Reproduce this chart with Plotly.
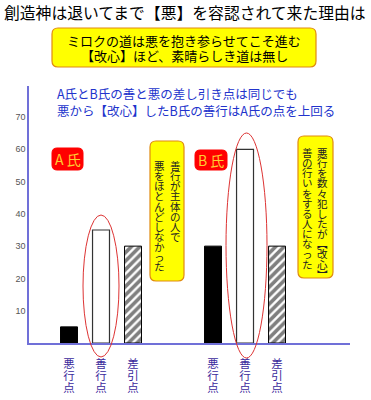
import plotly.graph_objects as go

# ---- data ----
categories = ["悪行点", "善行点", "差引点"]
groups = ["A氏", "B氏"]
values_A = [5, 35, 30]
values_B = [30, 60, 30]
y_ticks = [10, 20, 30, 40, 50, 60, 70]

title_text = "創造神は退いてまで【悪】を容認されて来た理由は"
box_lines = ["ミロクの道は悪を抱き参らせてこそ進む", "【改心】ほど、素晴らしき道は無し"]
blue_lines = ["A氏とB氏の善と悪の差し引き点は同じでも", "悪から【改心】したB氏の善行はA氏の点を上回る"]
note_A = ["善行が主体の人で", "悪をほとんどしなかった"]
note_B = ["悪行を数々犯したが︻改心︼", "善の行いをする人になった"]

FONT = "Noto Sans CJK JP"
W, H = 371, 400
L, R, T, B = 29, 350, 86, 343

group_start = [1.0, 5.5]

def px(x):
    return (x - L) / (R - L)

def py(y):
    return (B - y) / (B - T)

def rrect(x0, y0, x1, y1, r):
    pts = [
        f"M {px(x0 + r)},{py(y0)}",
        f"L {px(x1 - r)},{py(y0)}",
        f"Q {px(x1)},{py(y0)} {px(x1)},{py(y0 + r)}",
        f"L {px(x1)},{py(y1 - r)}",
        f"Q {px(x1)},{py(y1)} {px(x1 - r)},{py(y1)}",
        f"L {px(x0 + r)},{py(y1)}",
        f"Q {px(x0)},{py(y1)} {px(x0)},{py(y1 - r)}",
        f"L {px(x0)},{py(y0 + r)}",
        f"Q {px(x0)},{py(y0)} {px(x0 + r)},{py(y0)}",
        "Z",
    ]
    return " ".join(pts)

def vertical(text, char_px):
    return "<br>".join(f'<span style="font-size:{char_px}px">{c}</span>' for c in text)

fig = go.Figure()

styles = [
    dict(color="black", line=dict(color="black", width=1)),
    dict(color="white", line=dict(color="#333333", width=1.2)),
    dict(color="white", line=dict(color="black", width=1),
         pattern=dict(shape="/", fgcolor="black", bgcolor="white", size=6, solidity=0.6)),
]
for i, cat in enumerate(categories):
    fig.add_trace(go.Bar(
        x=[group_start[0] + i, group_start[1] + i],
        y=[values_A[i], values_B[i]],
        width=0.53,
        marker=styles[i],
        name=cat,
        showlegend=False,
    ))

tickvals = [g + i for g in group_start for i in range(len(categories))]
ticktext = [vertical(c, 11.5) for g in group_start for c in categories]

fig.update_layout(
    width=W, height=H,
    margin=dict(l=L, r=W - R, t=T, b=H - B, pad=0, autoexpand=False),
    plot_bgcolor="white", paper_bgcolor="white",
    font=dict(family=FONT),
    xaxis=dict(range=[-0.25, 9.78], tickvals=tickvals, ticktext=ticktext,
               showgrid=False, zeroline=False, showline=True,
               linecolor="#7070d8", linewidth=1.5, ticks="",
               ticklabelstandoff=12, automargin=False,
               tickfont=dict(size=9.4, color="#3b2a9c", family=FONT)),
    yaxis=dict(range=[0, 79.6], tickvals=y_ticks,
               showgrid=False, zeroline=False, showline=True,
               linecolor="#7070d8", linewidth=1.5, ticks="", automargin=False,
               tickfont=dict(size=9, color="#555555", family="Arial")),
)

shapes = []
ann = []

# title
ann.append(dict(x=px(185), y=py(13), xref="paper", yref="paper", text=title_text,
                showarrow=False, font=dict(size=15.8, color="black", family=FONT),
                xanchor="center", yanchor="middle"))

# yellow top box
shapes.append(dict(type="path", xref="paper", yref="paper", path=rrect(52, 28, 316, 67, 6),
                   fillcolor="#ffff00", line=dict(color="#e08a10", width=1.2)))
for line, yy in zip(box_lines, [41, 56]):
    ann.append(dict(x=px(184), y=py(yy), xref="paper", yref="paper", text=line,
                    showarrow=False, font=dict(size=13, color="black", family=FONT),
                    xanchor="center", yanchor="middle"))

# blue text
for line, yy in zip(blue_lines, [93, 110]):
    ann.append(dict(x=px(55), y=py(yy), xref="paper", yref="paper", text=line,
                    showarrow=False, font=dict(size=12.5, color="#2233cc", family=FONT),
                    xanchor="left", yanchor="middle"))

# red name boxes
for name, (x0, y0, x1, y1) in zip(groups, [(52, 148, 83, 170), (195, 150, 227, 170)]):
    shapes.append(dict(type="path", xref="paper", yref="paper", path=rrect(x0, y0, x1, y1, 5),
                       fillcolor="#ff0000", line=dict(color="#ff0000", width=1)))
    ann.append(dict(x=px((x0 + x1) / 2), y=py((y0 + y1) / 2), xref="paper", yref="paper",
                    text=name[0] + " " + name[1], showarrow=False,
                    font=dict(size=14, color="#ffcc33", family=FONT),
                    xanchor="center", yanchor="middle"))

# vertical note boxes
notes = [
    (note_A, (150, 141, 184, 281), [175, 159], 156),
    (note_B, (298, 136, 333, 278), [322, 307], 143),
]
for cols, (x0, y0, x1, y1), colx, ytop in notes:
    shapes.append(dict(type="path", xref="paper", yref="paper", path=rrect(x0, y0, x1, y1, 6),
                       fillcolor="#ffff00", line=dict(color="#e08a10", width=1.2)))
    for text, cx in zip(cols, colx):
        ann.append(dict(x=px(cx), y=py(ytop), xref="paper", yref="paper",
                        text=vertical(text, 10.5), showarrow=False,
                        font=dict(size=7.8, color="#222222", family=FONT),
                        xanchor="center", yanchor="top"))

# red ellipses around 善行点 bars
for (x0, y0, x1, y1) in [(83, 215, 119, 357), (226, 133, 267, 358)]:
    shapes.append(dict(type="circle", xref="paper", yref="paper",
                       x0=px(x0), x1=px(x1), y0=py(y1), y1=py(y0),
                       line=dict(color="#dd3333", width=1), fillcolor="rgba(0,0,0,0)"))

fig.update_layout(shapes=shapes, annotations=ann)
fig.write_html("out.html", config={"displayModeBar": False},
               post_script="document.body.style.margin='0';")
